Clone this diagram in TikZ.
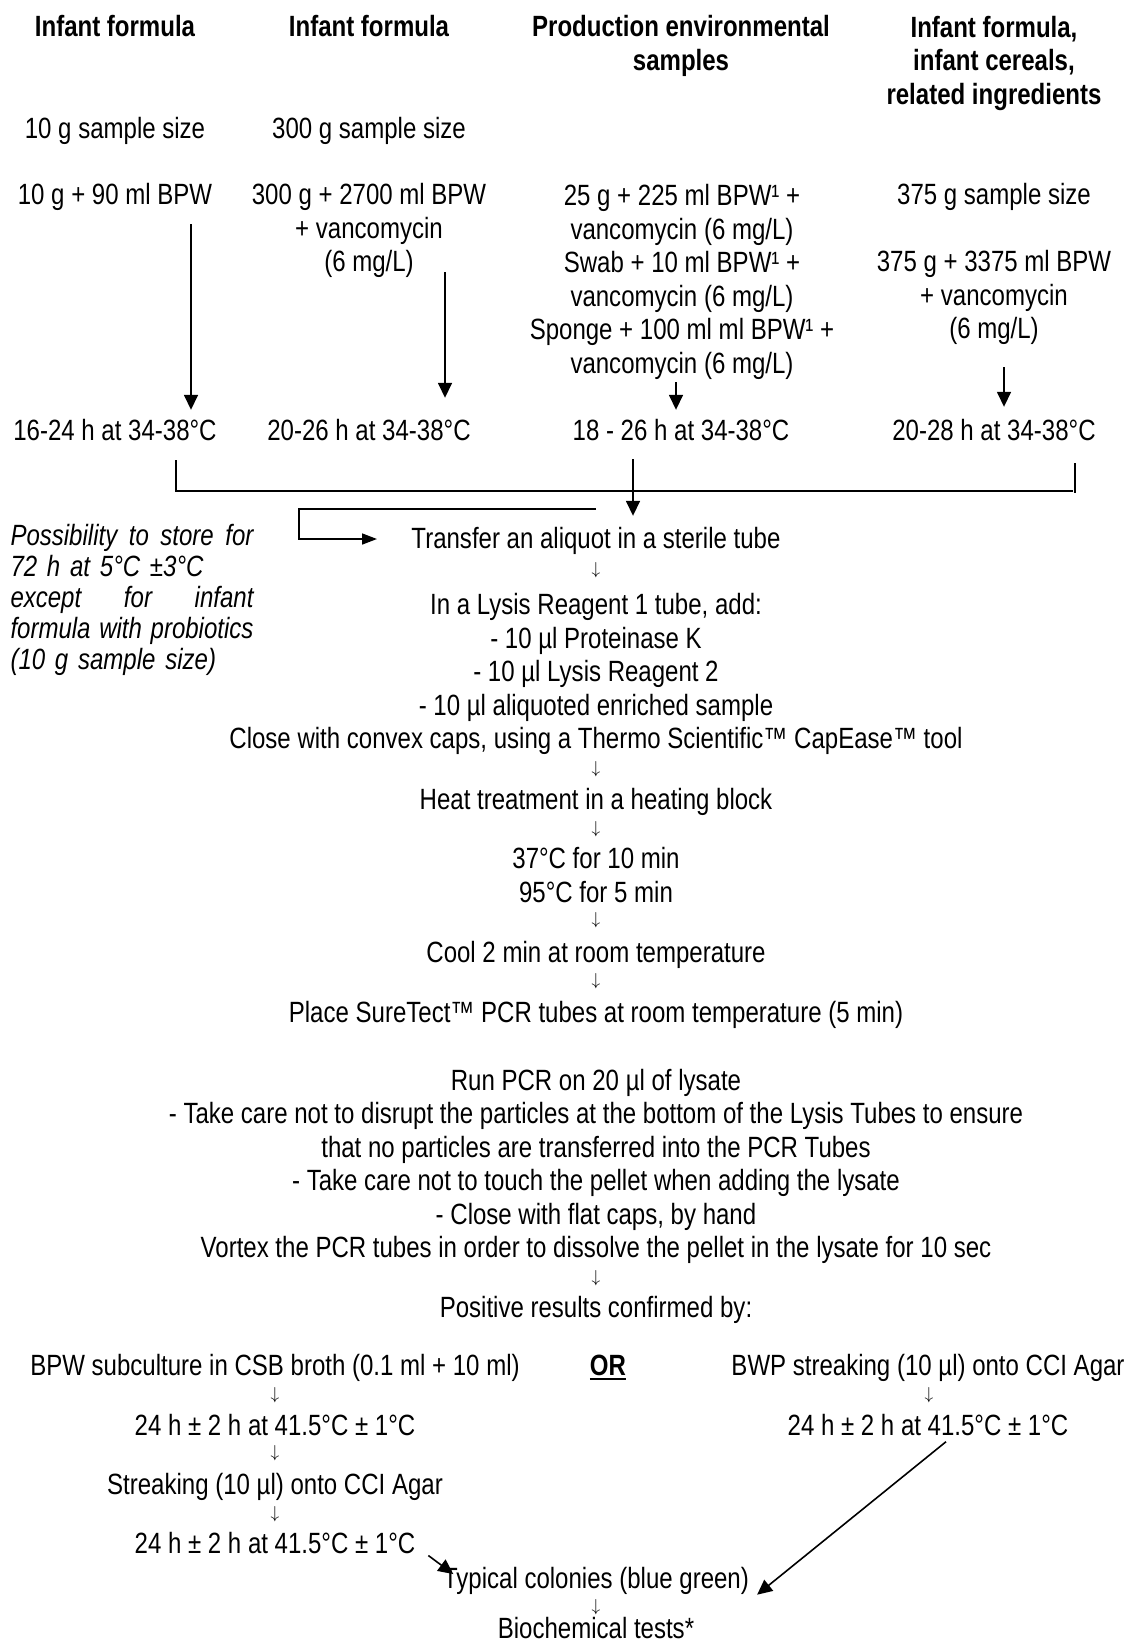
\documentclass[tikz,border=0pt]{standalone}
\usepackage{fontspec}
\setmainfont{Liberation Sans}[FakeStretch=0.82]
\usetikzlibrary{arrows.meta}
\setlength{\parindent}{0pt}

\newcommand{\flowfont}{\fontsize{29.3}{33.5}\selectfont}
\newcommand{\ulthick}[1]{\setbox0\hbox{#1}\rlap{\rule[-4.5pt]{\wd0}{2.5pt}}\box0}

\tikzset{
  txt/.style={font=\flowfont, inner sep=0pt, text height=21.5pt, text depth=6.5pt},
  blk/.style={font=\flowfont, inner sep=0pt, align=center},
  hd/.style={blk, font=\flowfont\bfseries},
  dn/.style={font=\fontsize{18}{20}\selectfont, inner sep=0pt},
  arr/.style={line width=1.6pt, -{Triangle[length=15pt, width=14pt]}},
  ln/.style={line width=1.6pt}
}

\begin{document}
\begin{tikzpicture}[x=1pt, y=-1pt]
  \useasboundingbox (0,0) rectangle (1130,1644);

  % sample types
  \node[hd] (hA) at (115,26) {Infant formula};
  \node[hd] (hB) at (369,26) {Infant formula};
  \node[hd] (hC) at (681,46) {Production environmental\\samples};
  \node[hd] (hD) at (994,63) {Infant formula,\\infant cereals,\\related ingredients};

  % enrichment
  \node[txt] (sA) at (115,131) {10 g sample size};
  \node[txt] (sB) at (369,131) {300 g sample size};
  \node[txt] (mA) at (115,197) {10 g + 90 ml BPW};
  \node[blk] (mB) at (369,230.5) {300 g + 2700 ml BPW\\+ vancomycin\\(6 mg/L)};
  \node[blk] (mC) at (682,282) {25 g + 225 ml BPW¹ +\\vancomycin (6 mg/L)\\Swab + 10 ml BPW¹ +\\vancomycin (6 mg/L)\\Sponge + 100 ml ml BPW¹ +\\vancomycin (6 mg/L)};
  \node[txt] (sD) at (994,197) {375 g sample size};
  \node[blk] (mD) at (994,297.5) {375 g + 3375 ml BPW\\+ vancomycin\\(6 mg/L)};

  % incubation
  \node[txt] (tA) at (115,433) {16-24 h at 34-38°C};
  \node[txt] (tB) at (369,433) {20-26 h at 34-38°C};
  \node[txt] (tC) at (681,433) {18 - 26 h at 34-38°C};
  \node[txt] (tD) at (994,433) {20-28 h at 34-38°C};

  \coordinate (aA) at (191,224);
  \coordinate (aB) at (445,272);
  \coordinate (aC) at (676,382);
  \coordinate (aD) at (1004,367);
  \draw[arr, shorten >=9pt] (aA) -- (aA |- tA.north);
  \draw[arr, shorten >=21pt] (aB) -- (aB |- tB.north);
  \draw[arr, shorten >=9pt] (aC) -- (aC |- tC.north);
  \draw[arr, shorten >=12pt] (aD) -- (aD |- tD.north);

  % join
  \coordinate (bl) at (176,460);
  \coordinate (br) at (1073,491);
  \coordinate (bt) at (1075,463);
  \coordinate (ct) at (633,459);
  \draw[ln] (bl) |- (br);
  \draw[ln] (bt) -- ++(0,30);

  % lysis
  \node[txt] (tr) at (596,541) {Transfer an aliquot in a sterile tube};
  \draw[arr, shorten >=11pt] (ct) -- (ct |- tr.north);
  \coordinate (st) at (596,509);
  \draw[line width=1.6pt, -{Triangle[length=15pt, width=11pt]}] (st) -- ++(-297,0) -- ++(0,30) -- ++(78,0);

  \node[font=\fontsize{29.3}{31}\selectfont\itshape, inner sep=0pt, text width=243pt, align=left] (store) at (132,600)
    {\makebox[243pt][s]{Possibility\hfill to\hfill store\hfill for}\\72 h at 5°C ±3°C\\\makebox[243pt][s]{except\hfill for\hfill infant}\\\makebox[243pt][s]{formula\hfill with\hfill probiotics}\\(10 g sample size)};

  \node[dn] (d1) at (596,570) {$\downarrow$};
  \node[blk] (ly) at (596,674) {In a Lysis Reagent 1 tube, add:\\- 10 µl Proteinase K\\- 10 µl Lysis Reagent 2\\- 10 µl aliquoted enriched sample\\Close with convex caps, using a Thermo Scientific™ CapEase™ tool};
  \node[dn] (d2) at (596,769) {$\downarrow$};
  \node[txt] (ht) at (596,802) {Heat treatment in a heating block};
  \node[dn] (d3) at (596,829) {$\downarrow$};
  \node[blk] (tp) at (596,875) {37°C for 10 min\\95°C for 5 min};
  \node[dn] (d4) at (596,920) {$\downarrow$};
  \node[txt] (cl) at (596,955) {Cool 2 min at room temperature};
  \node[dn] (d5) at (596,981) {$\downarrow$};
  \node[txt] (pl) at (596,1014.5) {Place SureTect™ PCR tubes at room temperature (5 min)};

  % PCR
  \node[blk] (rn) at (596,1166.5) {Run PCR on 20 µl of lysate\\- Take care not to disrupt the particles at the bottom of the Lysis Tubes to ensure\\that no particles are transferred into the PCR Tubes\\- Take care not to touch the pellet when adding the lysate\\- Close with flat caps, by hand\\Vortex the PCR tubes in order to dissolve the pellet in the lysate for 10 sec};
  \node[dn] (d6) at (596,1278) {$\downarrow$};
  \node[txt] (ps) at (596,1310) {Positive results confirmed by:};

  % confirmation
  \node[txt] (cs) at (275,1368) {BPW subculture in CSB broth (0.1 ml + 10 ml)};
  \node[txt, font=\flowfont\bfseries] (or) at (608,1368) {\ulthick{OR}};
  \node[txt] (bw) at (928,1368) {BWP streaking (10 µl) onto CCI Agar};
  \node[dn] (dL1) at (275,1395) {$\downarrow$};
  \node[dn] (dR1) at (929,1395) {$\downarrow$};
  \node[txt] (h1) at (275,1427.5) {24 h ± 2 h at 41.5°C ± 1°C};
  \node[txt] (rh) at (928,1427.5) {24 h ± 2 h at 41.5°C ± 1°C};
  \node[dn] (dL2) at (275,1453) {$\downarrow$};
  \node[txt] (sk) at (275,1487) {Streaking (10 µl) onto CCI Agar};
  \node[dn] (dL3) at (275,1514) {$\downarrow$};
  \node[txt] (h2) at (275,1546) {24 h ± 2 h at 41.5°C ± 1°C};

  \node[txt] (ty) at (596,1580.5) {Typical colonies (blue green)};
  \node[dn] (d7) at (596,1607) {$\downarrow$};
  \node[txt] (bc) at (596,1631) {Biochemical tests*};

  \draw[arr, shorten <=16pt, shorten >=-13pt] (h2.east) -- (ty.north west);
  \draw[arr] ([xshift=18pt]rh.south) -- ([xshift=8pt]ty.south east);
\end{tikzpicture}
\end{document}
